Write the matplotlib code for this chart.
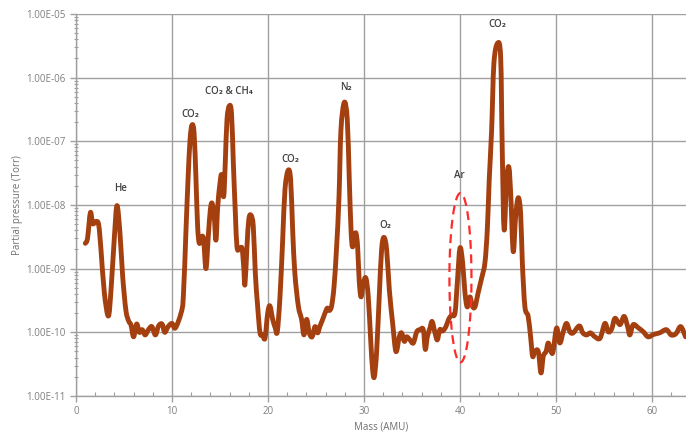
import numpy as np
import matplotlib
matplotlib.use("Agg")
import matplotlib.pyplot as plt
from matplotlib.path import Path
from matplotlib.patches import PathPatch
from matplotlib.ticker import FuncFormatter, MultipleLocator, LogLocator, NullFormatter

plt.rcParams['font.family'] = ['Open Sans', 'DejaVu Sans']

mass = [0.97, 1.2, 1.5, 1.74, 2.08, 2.36, 2.6, 2.95, 3.37, 3.65, 4.0, 4.27, 4.58, 4.86, 5.2, 5.49,
        5.73, 6.0, 6.32, 6.6, 6.9, 7.2, 7.55, 7.9, 8.27, 8.6, 8.97, 9.24, 9.6, 10.0, 10.35, 10.94,
        11.18, 11.46, 11.67, 11.88, 12.08, 12.3, 12.5, 12.67, 12.85, 13.13, 13.3, 13.54, 13.78, 13.99,
        14.17, 14.4, 14.58, 14.76, 15.0, 15.17, 15.38, 15.55, 15.73, 15.97, 16.2, 16.39, 16.6, 16.77,
        17.0, 17.29, 17.47, 17.6, 17.81, 18.0, 18.23, 18.47, 18.68, 18.92, 19.17, 19.44, 19.69, 19.97,
        20.2, 20.49, 20.76, 20.97, 21.25, 21.53, 21.77, 22.1, 22.36, 22.57, 22.8, 23.16, 23.5, 23.75,
        24.03, 24.3, 24.6, 24.9, 25.17, 25.4, 25.7, 25.94, 26.18, 26.4, 26.63, 26.88, 27.15, 27.4,
        27.6, 27.95, 28.26, 28.47, 28.65, 28.8, 29.0, 29.17, 29.34, 29.5, 29.69, 29.93, 30.2, 30.45,
        30.7, 30.9, 31.08, 31.32, 31.6, 31.84, 32.08, 32.36, 32.64, 32.99, 33.33, 33.68, 33.92, 34.2,
        34.44, 34.79, 35.14, 35.5, 35.83, 36.18, 36.39, 36.6, 36.88, 37.1, 37.4, 37.64, 37.9, 38.2,
        38.54, 38.82, 39.13, 39.48, 39.72, 40.0, 40.28, 40.52, 40.76, 41.04, 41.28, 41.56, 41.9, 42.26,
        42.6, 42.85, 43.05, 43.3, 43.54, 43.93, 44.24, 44.4, 44.6, 44.86, 45.1, 45.3, 45.55, 45.8,
        46.07, 46.32, 46.5, 46.77, 47.1, 47.36, 47.57, 47.8, 48.16, 48.44, 48.68, 48.97, 49.2, 49.48,
        49.7, 50.07, 50.4, 50.76, 51.1, 51.46, 51.8, 52.43, 52.8, 53.2, 53.6, 54.06, 54.6, 55.1,
        55.45, 55.8, 56.15, 56.67, 57.1, 57.47, 57.7, 58.05, 58.6, 59.1, 59.6, 60.2, 60.8, 61.5,
        62.0, 62.5, 63.0, 63.5]

pressure = [2.5e-9, 3.0e-9, 7.6e-9, 5.1e-9, 5.5e-9, 4.9e-9, 2.0e-9, 4.2e-10, 1.8e-10, 4.7e-10, 3.2e-9, 9.8e-9, 3.6e-9, 7.6e-10, 2.2e-10, 1.5e-10,
            1.3e-10, 8.5e-11, 1.35e-10, 1.0e-10, 1.1e-10, 9.1e-11, 1.1e-10, 1.23e-10, 9.1e-11, 1.26e-10, 1.35e-10, 1.0e-10, 1.23e-10, 1.38e-10, 1.17e-10, 2.0e-10,
            3.6e-10, 4.1e-9, 2.5e-8, 1.05e-7, 1.8e-7, 1.35e-7, 2.5e-8, 4.6e-9, 2.5e-9, 3.2e-9, 2.8e-9, 1.0e-9, 3.2e-9, 8.3e-9,
            1.07e-8, 6.6e-9, 2.8e-9, 9.3e-9, 2.2e-8, 2.95e-8, 1.35e-8, 4.6e-8, 2.2e-7, 3.6e-7, 2.75e-7, 4.6e-8, 7.4e-9, 2.2e-9,
            2.0e-9, 2.1e-9, 1.07e-9, 5.6e-10, 2.2e-9, 5.9e-9, 6.9e-9, 4.6e-9, 8.5e-10, 2.6e-10, 9.8e-11, 9.1e-11, 8.1e-11, 2.0e-10,
            2.6e-10, 1.6e-10, 1.17e-10, 1.02e-10, 3.6e-10, 2.8e-9, 1.74e-8, 3.5e-8, 2.5e-8, 4.1e-9, 8.5e-10, 2.6e-10, 1.6e-10, 9.1e-11,
            1.6e-10, 9.8e-11, 8.5e-11, 1.23e-10, 9.8e-11, 1.23e-10, 1.6e-10, 2.0e-10, 2.4e-10, 2.2e-10, 2.6e-10, 5.2e-10, 2.2e-9, 1.35e-8,
            1.5e-7, 4.1e-7, 2.2e-7, 2.5e-8, 4.1e-9, 2.2e-9, 3.2e-9, 3.6e-9, 2.2e-9, 6.6e-10, 3.6e-10, 5.9e-10, 7.1e-10, 3.6e-10,
            7.6e-11, 2.6e-11, 2.0e-11, 5.0e-11, 3.9e-10, 2.0e-9, 3.1e-9, 2.0e-9, 4.7e-10, 1.38e-10, 5.0e-11, 8.5e-11, 9.8e-11, 7.2e-11,
            8.5e-11, 7.6e-11, 6.8e-11, 1.02e-10, 1.1e-10, 1.1e-10, 5.4e-11, 8.5e-11, 1.17e-10, 1.48e-10, 9.8e-11, 7.6e-11, 1.1e-10, 1.05e-10,
            1.23e-10, 1.6e-10, 1.86e-10, 2.0e-10, 5.9e-10, 2.1e-9, 1.23e-9, 4.2e-10, 2.5e-10, 3.6e-10, 2.6e-10, 2.5e-10, 4.2e-10, 7.1e-10,
            1.23e-9, 4.1e-9, 2.5e-8, 1.5e-7, 1.7e-6, 3.5e-6, 2.1e-6, 8.3e-8, 4.1e-9, 2.5e-8, 3.9e-8, 1.35e-8, 1.86e-9, 6.6e-9,
            1.3e-8, 7.4e-9, 1.23e-9, 2.5e-10, 1.8e-10, 8.5e-11, 4.2e-11, 5.0e-11, 5.0e-11, 2.3e-11, 4.2e-11, 5.0e-11, 6.8e-11, 5.0e-11,
            5.0e-11, 1.17e-10, 6.8e-11, 1.02e-10, 1.38e-10, 1.02e-10, 9.8e-11, 1.26e-10, 9.8e-11, 9.1e-11, 9.8e-11, 8.5e-11, 8.1e-11, 1.38e-10,
            1.02e-10, 1.12e-10, 1.66e-10, 1.32e-10, 1.78e-10, 1.23e-10, 9.1e-11, 1.32e-10, 1.17e-10, 1.02e-10, 8.5e-11, 9.3e-11, 9.8e-11, 1.1e-10,
            9.1e-11, 9.5e-11, 1.23e-10, 8.5e-11]

label_text = ["He", "CO₂", "CO₂ & CH₄", "CO₂", "N₂", "O₂", "Ar", "CO₂"]
label_mass = [4.6, 11.9, 15.9, 22.3, 28.1, 32.2, 39.9, 43.85]
label_pressure = [1.8e-8, 2.6e-7, 6.0e-7, 5.1e-8, 6.9e-7, 4.7e-9, 2.9e-8, 6.8e-6]

x_ticks = [0, 10, 20, 30, 40, 50, 60]
y_ticks = [1e-11, 1e-10, 1e-9, 1e-8, 1e-7, 1e-6, 1e-5]

# highlighted Ar region (ellipse): centre mass, centre pressure, half-width (AMU), half-height (decades)
ar_center_mass = 40.05
ar_center_pressure = 7.2e-10
ar_half_width = 1.15
ar_half_decades = 1.33

fig = plt.figure(figsize=(6.86, 4.33), dpi=100)
ax = fig.add_axes([0.1108, 0.0855, 0.8892, 0.8822])

grid_c = '#a0a0a0'
ax.set_yscale('log')
ax.set_xlim(0, 63.55)
ax.set_ylim(1e-11, 1e-5)


def smoothed_path(xs, ys):
    """Excel-style smoothed line: cubic Bezier segments through the data points
    (control points built in (x, log y) space, mapped back for the log axis)."""
    xs = np.asarray(xs, float)
    ly = np.log10(np.asarray(ys, float))
    n = len(xs)
    verts = [(xs[0], 10 ** ly[0])]
    codes = [Path.MOVETO]
    for i in range(n - 1):
        i0, i1, i2, i3 = max(i - 1, 0), i, i + 1, min(i + 2, n - 1)
        c1x = xs[i1] + (xs[i2] - xs[i0]) / 6.0
        c1y = ly[i1] + (ly[i2] - ly[i0]) / 6.0
        c2x = xs[i2] - (xs[i3] - xs[i1]) / 6.0
        c2y = ly[i2] - (ly[i3] - ly[i1]) / 6.0
        verts += [(c1x, 10 ** c1y), (c2x, 10 ** c2y), (xs[i2], 10 ** ly[i2])]
        codes += [Path.CURVE4] * 3
    return Path(verts, codes)


patch = PathPatch(smoothed_path(mass, pressure), facecolor='none', edgecolor='#a43f10',
                  lw=3.5, joinstyle='round', capstyle='round', zorder=3)
ax.add_patch(patch)

t = np.linspace(0, 2 * np.pi, 200)
ex = ar_center_mass + ar_half_width * np.cos(t)
ey = 10 ** (np.log10(ar_center_pressure) + ar_half_decades * np.sin(t))
ax.plot(ex, ey, color='#ff2a2a', lw=1.6, dashes=(4, 2.5), zorder=4)

for txt, xm, yp in zip(label_text, label_mass, label_pressure):
    ax.text(xm, yp, txt, ha='center', va='center', fontsize=7, color='#404040',
            fontweight='semibold', zorder=5)

ax.set_xticks(x_ticks)
ax.xaxis.set_minor_locator(MultipleLocator(2))
ax.set_yticks(y_ticks)
ax.yaxis.set_minor_locator(LogLocator(base=10, subs=np.arange(2, 10)))
ax.yaxis.set_minor_formatter(NullFormatter())
ax.yaxis.set_major_formatter(FuncFormatter(lambda v, p: f"{v:.2E}"))

ax.grid(True, which='major', color=grid_c, lw=1.0)
ax.set_axisbelow(True)
for s in ['top', 'right']:
    ax.spines[s].set_visible(False)
for s in ['left', 'bottom']:
    ax.spines[s].set_color(grid_c)
    ax.spines[s].set_linewidth(1.0)

ax.tick_params(axis='both', which='major', colors=grid_c, labelcolor='#7f7f7f', labelsize=7, length=4, width=1.0)
ax.tick_params(axis='both', which='minor', colors=grid_c, length=2.5, width=0.8, direction='inout')
ax.tick_params(axis='x', which='minor', direction='in', length=3)

ax.set_xlabel('Mass (AMU)', fontsize=7, color='#6f6f6f', labelpad=3)
ax.set_ylabel('Partial pressure (Torr)', fontsize=7, color='#6f6f6f', labelpad=2)

fig.savefig('out.png', dpi=100)
